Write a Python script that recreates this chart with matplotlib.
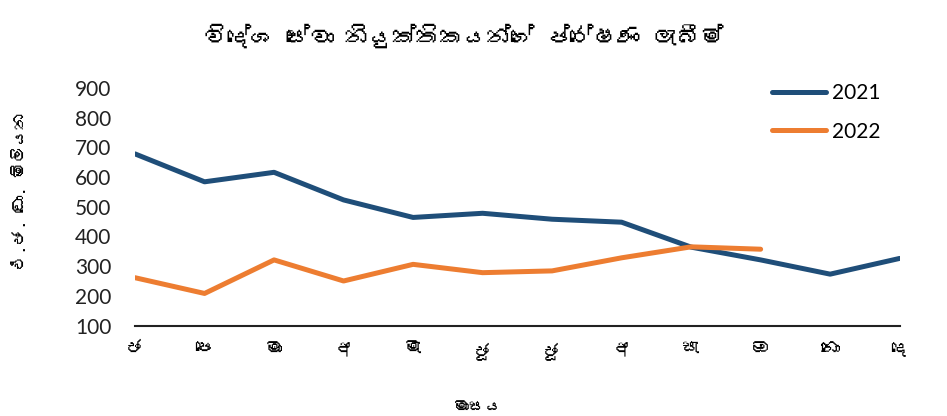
import matplotlib
matplotlib.use("Agg")
import matplotlib.pyplot as plt
from matplotlib import font_manager, ft2font

# data
months = ["ජ", "පෙ", "මා", "අ", "මැ", "ජූ", "ජූ", "අ", "සැ", "ඔ", "නො", "දෙ"]
y2021 = [678, 584, 616, 523, 464, 478, 458, 448, 364, 321, 273, 326]
y2022 = [261, 208, 321, 250, 306, 278, 284, 328, 365, 357]

title = "විදේශ සේවා නියුක්තිකයන්ගේ ප්‍රේෂණ ලැබීම්"
ylabel = "එ.ජ. ඩො. මිලියන"
xlabel = "මාසය"


# look for any installed font that has Sinhala glyphs
def find_font(code):
    for f in font_manager.fontManager.ttflist:
        try:
            cmap = ft2font.FT2Font(f.fname).get_charmap()
        except Exception:
            continue
        if code in cmap:
            return f.name
    return None


sin_font = find_font(0x0DC0)
fam = [sin_font, "DejaVu Sans"] if sin_font else ["DejaVu Sans"]
num_font = "Lato"

fig = plt.figure(figsize=(9.47, 4.16), dpi=100)
ax = fig.add_axes([0.1426, 0.2175, 0.8074, 0.571])

x = list(range(len(months)))
ax.plot(x, y2021, color="#1F4E79", lw=3.6, label="2021", solid_capstyle="round")
ax.plot(x[:len(y2022)], y2022, color="#ED7D31", lw=3.6, label="2022",
        solid_capstyle="round")

ax.set_xlim(0, 11)
ax.set_ylim(100, 900)
ax.set_yticks(range(100, 1000, 100))
ax.set_xticks(x)
ax.set_xticklabels(months, family=fam, fontsize=13)
for t in ax.get_yticklabels():
    t.set_family(num_font)
    t.set_fontsize(15)
    t.set_color("#222222")
ax.tick_params(axis="both", length=0)
ax.tick_params(axis="y", pad=17)
ax.tick_params(axis="x", pad=12)

for s in ["top", "right", "left"]:
    ax.spines[s].set_visible(False)
ax.spines["bottom"].set_color("#222222")
ax.spines["bottom"].set_linewidth(1.5)

leg = ax.legend(loc="upper right", bbox_to_anchor=(1.0, 1.1), frameon=False,
                prop={"family": num_font, "size": 15}, handlelength=2.6,
                labelspacing=0.9, handletextpad=0.3)

# matplotlib does no shaping, so the joiner would show as a box
fig.text(0.49, 0.915, title.replace("\u200d", ""), ha="center", va="center",
         family=fam, fontsize=17, fontweight="bold")
fig.text(0.022, 0.54, ylabel, ha="center", va="center", rotation=90,
         family=fam, fontsize=12)
fig.text(0.505, 0.02, xlabel, ha="center", va="center", family=fam, fontsize=12)

fig.savefig("out.png", dpi=100)
